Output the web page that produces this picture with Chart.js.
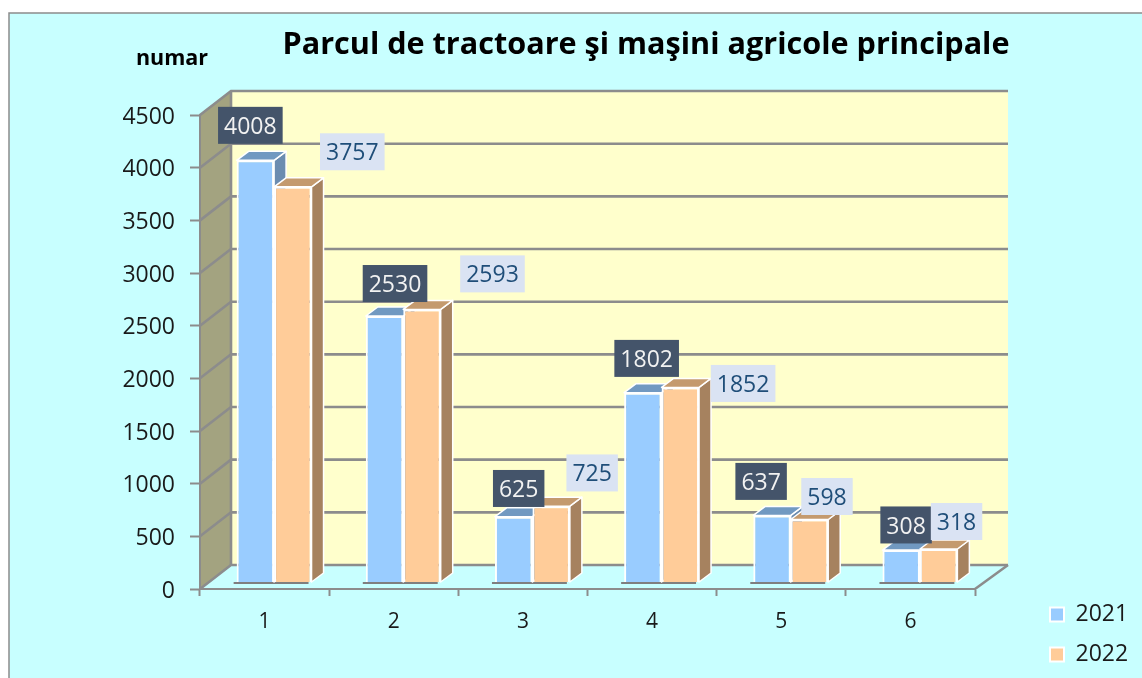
<!DOCTYPE html>
<html><head><meta charset="utf-8">
<style>html,body{margin:0;padding:0;background:#fff}canvas{display:block}</style>
<script src="https://cdn.jsdelivr.net/npm/chart.js@4"></script>
</head><body><canvas id="c" width="1142" height="678"></canvas>
<script>
const categories = ['1','2','3','4','5','6'];
const series2021 = [4008,2530,625,1802,637,308];
const series2022 = [3757,2593,725,1852,598,318];
const chartTitle = 'Parcul de tractoare şi maşini agricole principale';
const unitLabel = 'numar';
const FONT = '"Open Sans"';

// label box centre, relative to each bar's top
const labelOffsets2021 = [[4.5,-41.5],[20,-39],[14.5,-34.7],[13.3,-40.8],[-1.4,-40.5],[14.4,-31.6]];
const labelOffsets2022 = [[69,-41.5],[80,-42],[50.5,-39.7],[72.3,-10.5],[27,-29.5],[27.4,-34]];

const WALL_DX = 31, WALL_DY = 24, BAR_SHIFT_X = 9.5, BAR_SHIFT_Y = 6.5, BAR_DX = 12, BAR_DY = 9;
const GRID = '#8c8c8c';

function poly(ctx, pts, fill){
  ctx.beginPath(); pts.forEach((p,i)=> i?ctx.lineTo(p[0],p[1]):ctx.moveTo(p[0],p[1])); ctx.closePath();
  ctx.fillStyle = fill; ctx.fill();
}
const faces = [{side:'#6b8cb0',top:'#7199c1'},{side:'#a6825f',top:'#c49a6e'}];

const scene = {
  id:'scene',
  beforeDraw(chart){
    const {ctx,chartArea:a,scales:{y}} = chart;
    // position title blocks and legend
    const t = chart.titleBlock;
    t.left = 146; t.right = 1146; t.top = 26.5;
    const st = chart.boxes.find(b=>b.options && b.options.text===unitLabel);
    if(st){ st.left = 72; st.right = 272; st.top = 46; }
    const lg = chart.legend; const w = lg.width, h = lg.height;
    lg.left = 1033; lg.right = lg.left + w; lg.top = 586; lg.bottom = lg.top + h;

    ctx.save();
    ctx.fillStyle='#fff'; ctx.fillRect(0,0,chart.width,chart.height);
    ctx.fillStyle='#c8ffff'; ctx.fillRect(9,13,chart.width-9,chart.height-13);
    ctx.strokeStyle='#8c8c8c'; ctx.lineWidth=1.5;
    ctx.beginPath(); ctx.moveTo(9,chart.height); ctx.lineTo(9,13); ctx.lineTo(chart.width,13); ctx.stroke();

    const l=a.left, r=a.right, tp=a.top, b=a.bottom;
    poly(ctx,[[l+WALL_DX,tp-WALL_DY],[r+WALL_DX+2,tp-WALL_DY],[r+WALL_DX+2,b-WALL_DY],[l+WALL_DX,b-WALL_DY]],'#ffffcc');
    poly(ctx,[[l,tp],[l+WALL_DX,tp-WALL_DY],[l+WALL_DX,b-WALL_DY],[l,b]],'#a3a380');
    ctx.strokeStyle=GRID; ctx.lineWidth=2.6;
    y.ticks.forEach(tk=>{
      const py=y.getPixelForValue(tk.value);
      ctx.beginPath(); ctx.moveTo(l,py); ctx.lineTo(l+WALL_DX,py-WALL_DY); ctx.lineTo(r+WALL_DX+2,py-WALL_DY);
      ctx.stroke();
    });
    ctx.beginPath(); ctx.moveTo(l+WALL_DX,tp-WALL_DY); ctx.lineTo(l+WALL_DX,b-WALL_DY); ctx.stroke();
    ctx.beginPath(); ctx.moveTo(r,b); ctx.lineTo(r+WALL_DX+2,b-WALL_DY); ctx.stroke();
    ctx.restore();
  },
  beforeDatasetsDraw(chart){
    const ctx=chart.ctx;
    ctx.save();
    ctx.translate(BAR_SHIFT_X,-BAR_SHIFT_Y);
    // shadow line under each bar pair
    const m0=chart.getDatasetMeta(0).data, m1=chart.getDatasetMeta(1).data;
    ctx.strokeStyle='#7f7f7f'; ctx.lineWidth=2;
    m0.forEach((bar,i)=>{
      const x0=bar.x-bar.width/2-3, x1=m1[i].x+m1[i].width/2-3, yy=bar.base+1;
      ctx.beginPath(); ctx.moveTo(x0,yy); ctx.lineTo(x1,yy); ctx.stroke();
    });
    // depth faces
    [0,1].forEach(d=>{
      chart.getDatasetMeta(d).data.forEach(bar=>{
        const x0=bar.x-bar.width/2, x1=bar.x+bar.width/2, yt=bar.y, yb=bar.base;
        ctx.strokeStyle='#fff'; ctx.lineWidth=1.5; ctx.lineJoin='round';
        poly(ctx,[[x1,yt],[x1+BAR_DX,yt-BAR_DY],[x1+BAR_DX,yb-BAR_DY],[x1,yb]],faces[d].side); ctx.stroke();
        poly(ctx,[[x0,yt],[x0+BAR_DX,yt-BAR_DY],[x1+BAR_DX,yt-BAR_DY],[x1,yt]],faces[d].top); ctx.stroke();
      });
    });
  },
  afterDatasetsDraw(chart){
    const ctx=chart.ctx;
    ctx.restore();
    const styles=[{bg:'#44546a',fg:'#f2f2f2',off:labelOffsets2021},{bg:'#dae3f3',fg:'#1f4e79',off:labelOffsets2022}];
    ctx.save();
    ctx.font='23px '+FONT; ctx.textAlign='center'; ctx.textBaseline='middle';
    [0,1].forEach(d=>{
      const s=styles[d], vals=chart.data.datasets[d].data;
      chart.getDatasetMeta(d).data.forEach((bar,i)=>{
        const cx=bar.x+s.off[i][0], cy=bar.y+s.off[i][1];
        const txt=String(vals[i]); const w=ctx.measureText(txt).width+12, h=37;
        ctx.fillStyle=s.bg; ctx.fillRect(cx-w/2,cy-h/2,w,h);
        ctx.fillStyle=s.fg; ctx.fillText(txt,cx,cy+2);
      });
    });
    ctx.restore();
  }
};

new Chart(document.getElementById('c'),{
  type:'bar',
  data:{labels:categories,datasets:[
    {label:'2021',data:series2021,backgroundColor:'#99ccff',borderColor:'#ffffff',borderWidth:2,clip:false},
    {label:'2022',data:series2022,backgroundColor:'#ffcc99',borderColor:'#ffffff',borderWidth:2,clip:false}
  ]},
  options:{
    responsive:false,animation:false,
    layout:{padding:{top:52.5,right:167,left:0,bottom:0}},
    datasets:{bar:{barPercentage:1,categoryPercentage:0.58}},
    plugins:{
      tooltip:{enabled:false},
      title:{display:true,text:chartTitle,color:'#000',font:{family:FONT,size:30.6,weight:'bold',lineHeight:1.2},padding:0},
      subtitle:{display:true,text:unitLabel,color:'#000',font:{family:FONT,size:21.5,weight:'bold',lineHeight:1.2},padding:0},
      legend:{position:'chartArea',align:'start',labels:{boxWidth:14,boxHeight:14,padding:17,color:'#1a1a1a',font:{family:FONT,size:23}}}
    },
    scales:{
      x:{
        afterFit(s){s.height=89;},
        border:{color:GRID,width:2},
        grid:{drawOnChartArea:false,drawTicks:true,tickLength:7,tickColor:GRID,tickWidth:2},
        ticks:{color:'#1a1a1a',padding:13,maxRotation:0,font:{family:FONT,size:21}}
      },
      y:{
        min:0,max:4500,
        afterFit(s){s.width=200;},
        border:{color:GRID,width:2},
        grid:{drawOnChartArea:false,drawTicks:true,tickLength:10,tickColor:GRID,tickWidth:2},
        ticks:{stepSize:500,color:'#1a1a1a',padding:15,labelOffset:2,callback:v=>String(v),font:{family:FONT,size:23}}
      }
    }
  },
  plugins:[scene]
});
</script></body></html>
